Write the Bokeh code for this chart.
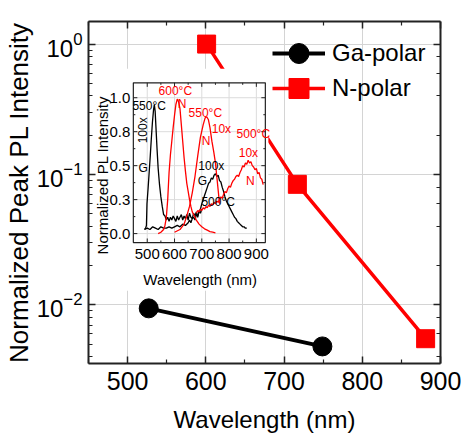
import math
from bokeh.plotting import figure
from bokeh.models import (Range1d, LinearAxis, LogAxis, Legend, LegendItem,
                          FixedTicker, LinearScale, LogTicker)
from bokeh.embed import file_html
from bokeh.resources import INLINE
from bokeh.core.properties import value

# ---------------- main data ----------------
ga_wl = [527, 749]
ga_int = [0.0094, 0.0048]
n_wl = [601, 717, 881]
n_int = [1.0, 0.084, 0.0055]

x_ticks = [500, 600, 700, 800, 900]
x_minor = [450, 550, 650, 750, 850]

# ---------------- inset spectra ----------------
g550_wl = [490, 494, 497, 499, 503, 507, 511, 515, 519, 523, 526, 529, 532, 536, 540, 545,
           550, 555, 560, 565, 570, 575, 580, 585, 590, 595, 600, 605, 610, 615, 620, 625,
           630, 635, 640, 645, 650, 655, 660, 665, 670, 675, 680, 685, 690, 695, 700]
g550_int = [0.03, 0.04, 0.06, 0.22, 0.33, 0.45, 0.57, 0.70, 0.82, 0.91, 0.95, 0.90, 0.78, 0.62, 0.48, 0.36,
            0.27, 0.20, 0.14, 0.13, 0.10, 0.12, 0.09, 0.12, 0.10, 0.13, 0.11, 0.09, 0.13, 0.10, 0.12, 0.14,
            0.10, 0.13, 0.11, 0.14, 0.10, 0.15, 0.12, 0.11, 0.15, 0.13, 0.16, 0.12, 0.17, 0.15, 0.18]

g500_wl = [490, 500, 510, 520, 530, 540, 550, 560, 570, 580, 590, 600, 610, 620, 630, 640, 650,
           655, 660, 665, 670, 675, 680, 685, 690, 695, 700, 705, 710, 715, 720, 725, 730, 735,
           740, 745, 750, 755, 760, 765, 770, 775, 780, 785, 790, 795, 800, 805, 810, 815, 820,
           825, 830, 835, 840, 845, 850, 855, 860, 865]
g500_int = [0.03, 0.04, 0.03, 0.05, 0.04, 0.03, 0.05, 0.04, 0.04, 0.05, 0.04, 0.05, 0.06, 0.05, 0.07, 0.06, 0.08,
            0.10, 0.08, 0.11, 0.12, 0.10, 0.14, 0.13, 0.16, 0.18, 0.22, 0.25, 0.28, 0.31, 0.34, 0.37, 0.38, 0.41,
            0.40, 0.43, 0.44, 0.42, 0.43, 0.39, 0.38, 0.34, 0.31, 0.27, 0.24, 0.22, 0.20, 0.18, 0.16, 0.14, 0.12,
            0.11, 0.09, 0.08, 0.07, 0.06, 0.05, 0.05, 0.04, 0.04]

n600_wl = [540, 550, 560, 565, 570, 575, 580, 585, 590, 595, 600, 605, 610, 615, 620, 625, 630,
           635, 640, 645, 650, 655, 660, 665, 670, 680, 690, 700, 710, 720, 730, 740, 750]
n600_int = [0.0, 0.01, 0.03, 0.06, 0.12, 0.25, 0.45, 0.58, 0.68, 0.78, 0.87, 0.95, 0.99, 0.97, 0.92, 0.80, 0.68,
            0.56, 0.46, 0.37, 0.31, 0.25, 0.20, 0.16, 0.14, 0.10, 0.07, 0.05, 0.035, 0.025, 0.015, 0.01, 0.005]

n550_wl = [600, 620, 635, 645, 655, 665, 675, 685, 695, 705, 712, 718, 724, 730, 737, 744, 750, 755, 760, 765]
n550_int = [0.01, 0.03, 0.07, 0.13, 0.20, 0.30, 0.42, 0.57, 0.71, 0.80, 0.85, 0.86, 0.84, 0.78, 0.68, 0.60, 0.52,
            0.42, 0.32, 0.22]

n500_wl = [680, 685, 690, 695, 700, 705, 710, 715, 720, 725, 730, 735, 740, 745, 750, 755, 760, 765, 770, 775,
           780, 785, 790, 795, 800, 805, 810, 815, 820, 825, 830, 835, 840, 845, 850, 855, 860, 865, 870, 875,
           880, 885, 890, 895, 900, 905, 910, 915, 920, 925]
n500_int = [0.15, 0.17, 0.16, 0.18, 0.17, 0.19, 0.18, 0.20, 0.19, 0.21,
            0.20, 0.22, 0.21, 0.23, 0.22, 0.24, 0.23, 0.25, 0.27, 0.26,
            0.29, 0.31, 0.30, 0.33, 0.35, 0.34, 0.37, 0.39, 0.40, 0.42,
            0.43, 0.42, 0.45, 0.47, 0.50, 0.49, 0.52, 0.51, 0.54, 0.52,
            0.53, 0.50, 0.49, 0.47, 0.48, 0.44, 0.45, 0.41, 0.40, 0.36]

inset_x_ticks = [500, 600, 700, 800, 900]
inset_x_minor = [550, 650, 750, 850]
inset_y_ticks = [0.0, 0.25, 0.5, 0.75, 1.0]
inset_y_labels = ["0.0", "0.3", "0.5", "0.8", "1.0"]
inset_y_minor = [0.125, 0.375, 0.625, 0.875]

ann_text = ["550°C", "100x", "G", "600°C", "N", "550°C", "10x", "N",
            "500°C", "10x", "N", "100x", "G", "500°C"]
ann_x = [507, 485, 485, 603, 628, 713, 772, 716, 889, 871, 878, 735, 702, 760]
ann_y = [0.94, 0.76, 0.485, 1.05, 0.956, 0.89, 0.77, 0.68, 0.73, 0.59, 0.39, 0.50, 0.39, 0.23]
ann_color = ["black", "black", "black", "red", "red", "red", "red", "red",
             "red", "red", "red", "black", "black", "black"]
ann_angle = [0, math.pi / 2, 0, 0, 0, 0, 0, 0, 0, 0, 0, 0, 0, 0]

FONT = "Liberation Sans"
RED = "#ff0000"

# ---------------- figure ----------------
p = figure(width=461, height=441, x_range=Range1d(450, 900), y_range=Range1d(0.00355, 1.49),
           y_axis_type="log", output_backend="svg", toolbar_location=None,
           min_border_left=88, min_border_right=21, min_border_top=21, min_border_bottom=78,
           x_axis_label="Wavelength (nm)", y_axis_label="Normalized Peak PL Intensity")
p.outline_line_color = None
p.background_fill_color = "white"

xt = FixedTicker(ticks=x_ticks, minor_ticks=x_minor)


def style_axis(ax, labels=True, size="25px"):
    ax.axis_line_width = 2
    ax.axis_line_color = "#222222"
    ax.major_tick_in = 7
    ax.major_tick_out = 0
    ax.minor_tick_in = 4
    ax.minor_tick_out = 0
    ax.major_tick_line_width = 1.5
    ax.major_tick_line_color = "#222222"
    ax.minor_tick_line_color = "#222222"
    ax.minor_tick_line_width = 1.2
    ax.major_label_text_font = FONT
    if labels:
        ax.major_label_text_color = "black"
        ax.major_label_text_font_size = size
    else:
        ax.major_label_text_color = None
        ax.major_label_text_font_size = "1px"
        ax.major_label_standoff = 0


bx = p.xaxis[0]
bx.ticker = xt
style_axis(bx)
bx.major_label_standoff = 8
bx.axis_label_text_font = FONT
bx.axis_label_text_color = "black"
bx.axis_label_text_font_size = "24px"
bx.axis_label_text_font_style = "normal"
bx.axis_label_standoff = 13

ly = p.yaxis[0]
style_axis(ly, size="24px")
ly.major_label_standoff = 6
ly.axis_label_text_font = FONT
ly.axis_label_text_color = "black"
ly.axis_label_text_font_size = "26px"
ly.axis_label_text_font_style = "normal"
ly.axis_label_standoff = 0

top_ax = LinearAxis(ticker=FixedTicker(ticks=x_ticks, minor_ticks=x_minor))
style_axis(top_ax, labels=False)
p.add_layout(top_ax, "above")
right_ax = LogAxis(ticker=LogTicker())
style_axis(right_ax, labels=False)
p.add_layout(right_ax, "right")

p.xgrid.ticker = xt
p.xgrid.grid_line_color = "#d4d4d4"
p.ygrid.grid_line_color = "#d4d4d4"

# main series
ga_line = p.line(ga_wl, ga_int, line_color="black", line_width=4)
ga_sc = p.scatter(ga_wl, ga_int, marker="circle", size=19, fill_color="black", line_color="black")
n_line = p.line(n_wl, n_int, line_color=RED, line_width=3.5)
n_sc = p.scatter(n_wl, n_int, marker="square", size=18, fill_color=RED, line_color=RED)

# ---------------- inset (extra linear ranges) ----------------
p.extra_x_ranges = {"ix": Range1d(284.6, 1575.2)}
p.extra_y_ranges = {"iy": Range1d(-0.956, 1.561)}
p.extra_x_scales = {"ix": LinearScale()}
p.extra_y_scales = {"iy": LinearScale()}
R = dict(x_range_name="ix", y_range_name="iy")

IX0, IX1 = 449, 933
IY0, IY1 = -0.066, 1.11
TX = 14.7   # 4 px in inset x units
TY = 0.03   # 4 px in inset y units

# white backdrop hiding main plot under the inset
p.quad(left=309, right=944, bottom=-0.42, top=1.213, fill_color="white", line_color=None, **R)
p.quad(left=IX0, right=IX1, bottom=IY0, top=IY1, fill_color="white", line_color=None, **R)

# inset grid
p.segment(x0=inset_x_ticks, y0=[IY0] * 5, x1=inset_x_ticks, y1=[IY1] * 5,
          line_color="#dcdcdc", line_width=1, **R)
p.segment(x0=[IX0] * 5, y0=inset_y_ticks, x1=[IX1] * 5, y1=inset_y_ticks,
          line_color="#dcdcdc", line_width=1, **R)

# spectra
lw = 1.3
p.line(g550_wl, g550_int, line_color="black", line_width=lw, **R)
p.line(g500_wl, g500_int, line_color="black", line_width=lw, **R)
p.line(n600_wl, n600_int, line_color=RED, line_width=lw, **R)
p.line(n550_wl, n550_int, line_color=RED, line_width=lw, **R)
p.line(n500_wl, n500_int, line_color=RED, line_width=lw, **R)

# inset frame
p.quad(left=IX0, right=IX1, bottom=IY0, top=IY1, fill_color=None, line_color="#222222", line_width=1.2, **R)

# inset ticks (inward, all sides)
nx, ny, nmx, nmy = len(inset_x_ticks), len(inset_y_ticks), len(inset_x_minor), len(inset_y_minor)
p.segment(x0=inset_x_ticks, y0=[IY0] * nx, x1=inset_x_ticks, y1=[IY0 + TY] * nx, line_color="#222222", **R)
p.segment(x0=inset_x_ticks, y0=[IY1] * nx, x1=inset_x_ticks, y1=[IY1 - TY] * nx, line_color="#222222", **R)
p.segment(x0=inset_x_minor, y0=[IY0] * nmx, x1=inset_x_minor, y1=[IY0 + TY / 2] * nmx, line_color="#222222", **R)
p.segment(x0=inset_x_minor, y0=[IY1] * nmx, x1=inset_x_minor, y1=[IY1 - TY / 2] * nmx, line_color="#222222", **R)
p.segment(x0=[IX0] * ny, y0=inset_y_ticks, x1=[IX0 + TX] * ny, y1=inset_y_ticks, line_color="#222222", **R)
p.segment(x0=[IX1] * ny, y0=inset_y_ticks, x1=[IX1 - TX] * ny, y1=inset_y_ticks, line_color="#222222", **R)
p.segment(x0=[IX0] * nmy, y0=inset_y_minor, x1=[IX0 + TX / 2] * nmy, y1=inset_y_minor, line_color="#222222", **R)
p.segment(x0=[IX1] * nmy, y0=inset_y_minor, x1=[IX1 - TX / 2] * nmy, y1=inset_y_minor, line_color="#222222", **R)

# inset tick labels
p.text(x=inset_x_ticks, y=[IY0] * nx, text=[str(t) for t in inset_x_ticks], y_offset=11,
       text_align="center", text_baseline="middle", text_font=value(FONT),
       text_font_size="15px", text_color="black", **R)
p.text(x=[IX0] * ny, y=inset_y_ticks, text=inset_y_labels, x_offset=-3,
       text_align="right", text_baseline="middle", text_font=value(FONT),
       text_font_size="15px", text_color="black", **R)

# inset axis titles
p.text(x=[335], y=[0.43], text=["Normalized PL Intensity"], angle=math.pi / 2,
       text_align="center", text_baseline="middle", text_font=value(FONT),
       text_font_size="15px", text_color="black", **R)
p.text(x=[694], y=[-0.34], text=["Wavelength (nm)"],
       text_align="center", text_baseline="middle", text_font=value(FONT),
       text_font_size="15px", text_color="black", **R)

# inset annotations
p.text(x=ann_x, y=ann_y, text=ann_text, angle=ann_angle, text_color=ann_color,
       text_align="center", text_baseline="middle", text_font=value(FONT),
       text_font_size="12px", **R)

# legend (one legend per row so the markers can be large)
leg_common = dict(glyph_width=53, glyph_height=50, spacing=0, label_standoff=7,
                  label_text_font=FONT, label_text_font_size="24px", label_text_color="black",
                  padding=0, margin=0, border_line_color=None, background_fill_alpha=0)
leg1 = Legend(items=[LegendItem(label="Ga-polar", renderers=[ga_line, ga_sc])],
              location=(184, 285), **leg_common)
leg2 = Legend(items=[LegendItem(label="N-polar", renderers=[n_line, n_sc])],
              location=(184, 250), **leg_common)
p.add_layout(leg1)
p.add_layout(leg2)

open("out.html", "w").write(file_html(p, INLINE))
